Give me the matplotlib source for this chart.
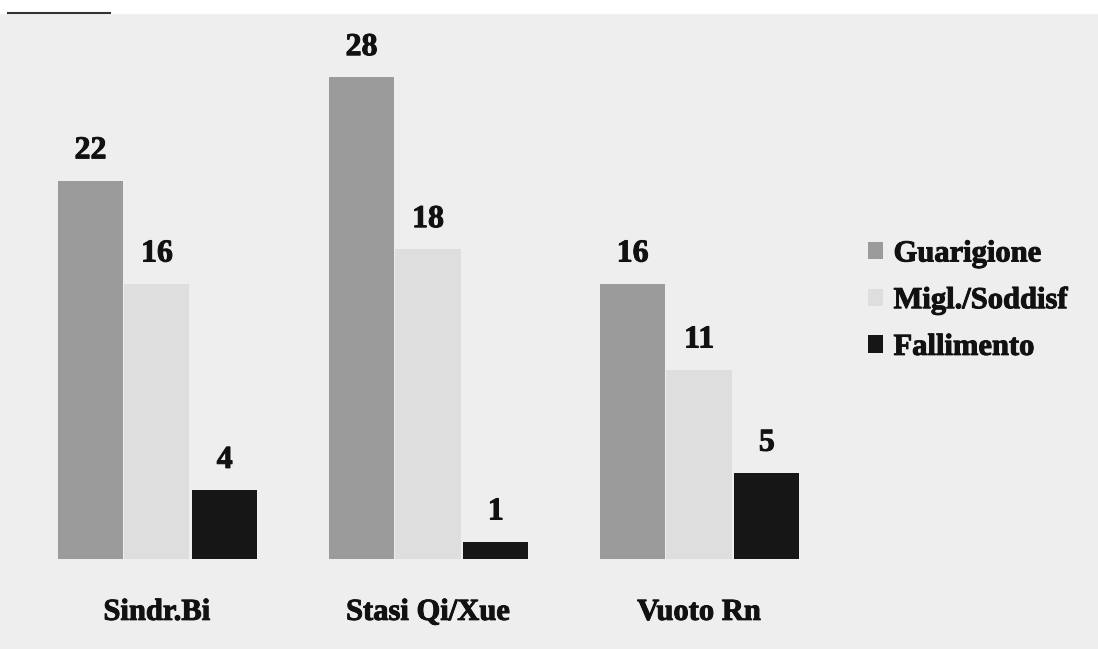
import numpy as np
import matplotlib
matplotlib.use("Agg")
import matplotlib.pyplot as plt
import matplotlib.patheffects as pe

categories = ["Sindr.Bi", "Stasi Qi/Xue", "Vuoto Rn"]
series_names = ["Guarigione", "Migl./Soddisf", "Fallimento"]
guarigione = [22, 28, 16]
migl_soddisf = [16, 18, 11]
fallimento = [4, 1, 5]

colors = ["#9b9b9b", "#dedede", "#161616"]
bg = "#eeeeee"

plt.rcParams["font.family"] = ["Liberation Serif", "DejaVu Serif"]
plt.rcParams["font.weight"] = "bold"

# thicker strokes, the scanned type looks heavy
heavy = [pe.withStroke(linewidth=0.7, foreground="#111111")]

fig = plt.figure(figsize=(10.98, 6.49), dpi=100)
fig.patch.set_facecolor(bg)
# white strip at the top of the scan, with a short dark rule
fig.patches.append(plt.Rectangle((0, 0.98), 1, 0.02, transform=fig.transFigure,
                                 color="white", zorder=0))
fig.lines.append(plt.Line2D([0.007, 0.10], [0.98, 0.98], transform=fig.transFigure,
                            color="#333333", lw=1.5))

ax = fig.add_axes([0, 0.1387, 1, 0.795])
ax.set_facecolor(bg)
ax.patch.set_alpha(0)

x = np.arange(len(categories))
width = 0.24
offsets = [-0.245, 0.0, 0.25]
all_series = [guarigione, migl_soddisf, fallimento]

for vals, off, col, name in zip(all_series, offsets, colors, series_names):
    bars = ax.bar(x + off, vals, width, color=col, label=name)
    for b, v in zip(bars, vals):
        ax.annotate(str(v), (b.get_x() + b.get_width() / 2, v),
                    xytext=(0, 11), textcoords="offset points",
                    ha="center", va="bottom", fontsize=23, fontweight="bold",
                    color="#111111", path_effects=heavy)

ax.set_xlim(-0.579, 3.472)
ax.set_ylim(0, 30)
ax.set_xticks(x)
ax.set_xticklabels(categories, fontsize=22, fontweight="bold", color="#111111")
for t in ax.get_xticklabels():
    t.set_path_effects(heavy)
ax.tick_params(axis="x", length=0, pad=28)
ax.set_yticks([])
for s in ax.spines.values():
    s.set_visible(False)

leg = ax.legend(loc="upper left", bbox_to_anchor=(0.779, 0.643), frameon=False,
                fontsize=22, handlelength=0.5, handleheight=0.5,
                handletextpad=0.35, labelspacing=0.58, borderaxespad=0)
for t in leg.get_texts():
    t.set_fontweight("bold")
    t.set_color("#111111")
    t.set_path_effects(heavy)

fig.savefig("out.png", dpi=100, facecolor=bg)
